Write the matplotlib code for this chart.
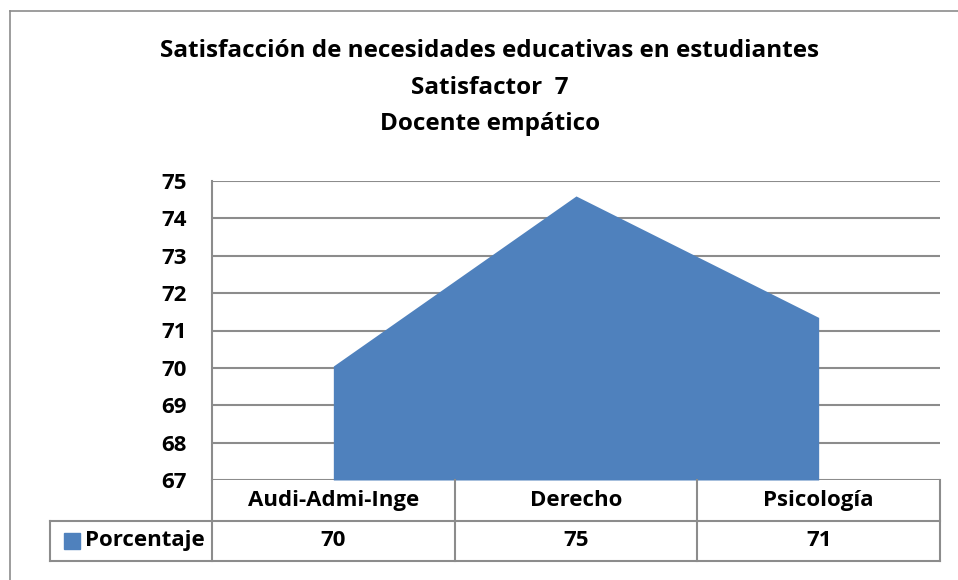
import matplotlib
matplotlib.use("Agg")
import matplotlib.pyplot as plt
import matplotlib.transforms as mtransforms

# data
categorias = ["Audi-Admi-Inge", "Derecho", "Psicología"]
porcentaje = [70.05, 74.6, 71.35]
etiquetas_tabla = ["70", "75", "71"]
serie = "Porcentaje"
titulo = ["Satisfacción de necesidades educativas en estudiantes",
          "Satisfactor  7",
          "Docente empático"]

plt.rcParams['font.family'] = ['Open Sans', 'DejaVu Sans']
azul = "#4f81bd"
gris = "#8c8c8c"
fs_tabla = 16

fig = plt.figure(figsize=(9.58, 5.8), dpi=100)
ax = fig.add_axes([212 / 958, 1 - 480 / 580, 728 / 958, 299 / 580])

x = list(range(len(categorias)))
ax.fill_between(x, 67, porcentaje, color=azul, linewidth=0)
ax.set_xlim(-0.5, len(categorias) - 0.5)
ax.set_ylim(67, 75)
ax.set_yticks(range(67, 76))
ax.set_yticklabels([str(v) for v in range(67, 76)], fontsize=fs_tabla, fontweight="bold")
ax.tick_params(axis="y", length=0, pad=18)
ax.set_xticks([])
ax.grid(axis="y", color=gris, linewidth=1.5)
ax.set_axisbelow(True)
for s in ["top", "right", "bottom"]:
    ax.spines[s].set_visible(False)
ax.spines["left"].set_color(gris)
ax.spines["left"].set_linewidth(1.5)

# data table under the axes (x in data units, y in axes units)
trans = mtransforms.blended_transform_factory(ax.transData, ax.transAxes)
fila = 40.5 / 299
y0, y1, y2 = 0, -fila, -2 * fila
izq = -0.5 - 162 / (728 / 3)
der = len(categorias) - 0.5
lw = 1.5
ax.plot([izq, der], [y1, y1], transform=trans, color=gris, lw=lw, clip_on=False)
ax.plot([izq, der], [y2, y2], transform=trans, color=gris, lw=lw, clip_on=False)
ax.plot([izq, izq], [y1, y2], transform=trans, color=gris, lw=lw, clip_on=False)
for b in [i - 0.5 for i in range(len(categorias) + 1)]:
    ax.plot([b, b], [y0, y2], transform=trans, color=gris, lw=lw, clip_on=False)

for i, (cat, et) in enumerate(zip(categorias, etiquetas_tabla)):
    ax.text(i, (y0 + y1) / 2, cat, transform=trans, ha="center", va="center",
            fontsize=fs_tabla, fontweight="bold")
    ax.text(i, (y1 + y2) / 2, et, transform=trans, ha="center", va="center",
            fontsize=fs_tabla, fontweight="bold")

ax.plot([izq + 0.089], [(y1 + y2) / 2], transform=trans, marker="s", ms=11,
        color=azul, clip_on=False)
ax.text(izq + 0.145, (y1 + y2) / 2, serie, transform=trans, ha="left", va="center",
        fontsize=fs_tabla, fontweight="bold")

# title
for linea, yp in zip(titulo, [51, 88, 124]):
    fig.text(490 / 958, 1 - yp / 580, linea, ha="center", va="center",
             fontsize=17.5, fontweight="bold")

# chart frame
fig.add_artist(plt.Line2D([10 / 958, 10 / 958], [0, 1 - 11 / 580],
                          transform=fig.transFigure, color=gris, lw=1.2))
fig.add_artist(plt.Line2D([10 / 958, 1], [1 - 11 / 580, 1 - 11 / 580],
                          transform=fig.transFigure, color=gris, lw=1.2))

fig.savefig("out.png", dpi=100)
